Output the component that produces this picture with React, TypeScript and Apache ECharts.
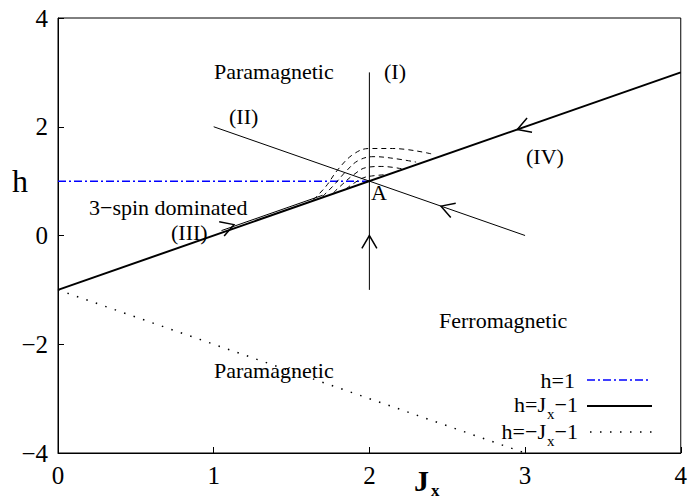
import React, { useEffect, useRef } from "react";
import * as echarts from "echarts";

// ---- data ----
const xTicks = [0, 1, 2, 3, 4];
const yTicks = [-4, -2, 0, 2, 4];
const lineH1: number[][] = [[0, 1], [2, 1]];
const lineJm1: number[][] = [[0, -1], [4, 3]];
const lineNegJm1: number[][] = [[0, -1], [3, -4]];
const lineI: number[][] = [[2, -1], [2, 3]];
const lineII: number[][] = [[1, 2], [3, 0]];
const lineIIIthin: number[][] = [[1.05, 0.09], [1.7, 0.74]];
const flow1: number[][] = [[1.64, 0.66], [1.72, 0.9], [1.8, 1.22], [1.9, 1.5], [2.0, 1.6], [2.15, 1.6], [2.4, 1.5]];
const flow2: number[][] = [[1.7, 0.72], [1.77, 0.92], [1.85, 1.18], [1.93, 1.38], [2.03, 1.45], [2.15, 1.42], [2.3, 1.35]];
const flow3: number[][] = [[1.77, 0.79], [1.83, 0.95], [1.9, 1.12], [1.98, 1.25], [2.08, 1.27], [2.22, 1.22]];
const flow4: number[][] = [[1.85, 0.86], [1.9, 0.96], [1.96, 1.06], [2.03, 1.1], [2.12, 1.12]];
// arrows: [x, y, dx, dy] (position of tip and direction of travel)
const arrows: number[][] = [
  [2, 0, 0, 1],
  [2.46, 0.54, -1, 1],
  [2.95, 1.95, -1, -1],
  [1.13, 0.2, 1, 1],
];

const FONT = "Liberation Serif";

export default function App() {
  const ref = useRef<HTMLDivElement>(null);
  useEffect(() => {
    document.body.style.margin = "0";
    const chart = echarts.init(ref.current!, null, { renderer: "svg" });
    const thin = (data: number[][], lw = 1, type: any = "solid", color = "#000") => ({
      type: "line",
      data,
      symbol: "none",
      silent: true,
      lineStyle: { color, width: lw, type },
    });
    const flow = (data: number[][]) => ({
      type: "line",
      data,
      symbol: "none",
      smooth: 0.4,
      silent: true,
      lineStyle: { color: "#000", width: 1, type: [5, 4] },
    });
    const text = (t: string, x: number, y: number, size = 22, extra: any = {}) => ({
      type: "text",
      x,
      y,
      style: {
        text: t,
        fontFamily: FONT,
        fontSize: size,
        fill: "#000",
        textAlign: extra.align || "left",
        textVerticalAlign: "middle",
        fontWeight: extra.weight || "normal",
      },
    });
    const line = (x1: number, y1: number, x2: number, y2: number, style: any) => ({
      type: "line",
      shape: { x1, y1, x2, y2 },
      style: Object.assign({ stroke: "#000", lineWidth: 1 }, style),
    });
    const fmt = (v: number) => (v < 0 ? "\u2212" + Math.abs(v) : String(v));
    const labelStyle = {
      fontFamily: FONT,
      fontSize: 25,
      color: "#000",
      margin: 10,
      formatter: fmt,
    };
    chart.setOption({
      animation: false,
      textStyle: { fontFamily: FONT, fontSize: 25, color: "#000" },
      grid: {
        left: 58,
        right: 8,
        top: 18,
        bottom: 47,
        show: true,
        borderColor: "#000",
        borderWidth: 1,
      },
      xAxis: {
        type: "value",
        min: xTicks[0],
        max: xTicks[xTicks.length - 1],
        interval: 1,
        axisLine: { show: true, onZero: false, lineStyle: { color: "#000", width: 1 } },
        axisTick: { show: true, inside: true, length: 6, lineStyle: { color: "#000" } },
        axisLabel: labelStyle,
        splitLine: { show: false },
      },
      yAxis: {
        type: "value",
        min: yTicks[0],
        max: yTicks[yTicks.length - 1],
        interval: 2,
        axisLine: { show: true, onZero: false, lineStyle: { color: "#000", width: 1 } },
        axisTick: { show: true, inside: true, length: 6, lineStyle: { color: "#000" } },
        axisLabel: labelStyle,
        splitLine: { show: false },
      },
      series: [
        thin(lineH1, 1.5, [8, 3, 2, 3], "#0000ff"),
        thin(lineJm1, 2),
        thin(lineNegJm1, 1.5, [1.5, 8.5]),
        thin(lineI, 1),
        thin(lineII, 1),
        thin(lineIIIthin, 1),
        flow(flow1),
        flow(flow2),
        flow(flow3),
        flow(flow4),
        {
          type: "custom",
          silent: true,
          data: arrows,
          renderItem: (params: any, api: any) => {
            const x = api.value(0), y = api.value(1), dx = api.value(2), dy = api.value(3);
            const p = api.coord([x, y]);
            const q = api.coord([x + dx, y + dy]);
            let ux = q[0] - p[0], uy = q[1] - p[1];
            const L = Math.hypot(ux, uy);
            ux /= L; uy /= L;
            const bx = -ux, by = -uy;
            const len = 15, ang = Math.PI / 6;
            const rot = (a: number) => [
              p[0] + len * (bx * Math.cos(a) - by * Math.sin(a)),
              p[1] + len * (bx * Math.sin(a) + by * Math.cos(a)),
            ];
            return {
              type: "polyline",
              shape: { points: [rot(ang), p, rot(-ang)] },
              style: { stroke: "#000", fill: "none", lineWidth: 1.5 },
            };
          },
        },
      ],
      graphic: [
        text("Paramagnetic", 214, 71),
        text("(I)", 384, 71),
        text("(II)", 229, 116),
        text("(IV)", 526, 156),
        text("A", 371, 192),
        text("3\u2212spin dominated", 89, 207),
        text("(III)", 171, 232),
        text("Ferromagnetic", 439, 320),
        text("Paramagnetic", 214, 370),
        text("h", 12, 181, 32),
        text("J", 414, 480, 30, { weight: "bold" }),
        text("x", 431, 490, 17, { weight: "bold" }),
        // legend
        text("h=1", 575, 380, 22, { align: "right" }),
        line(587, 380, 651, 380, { stroke: "#0000ff", lineWidth: 1.5, lineDash: [8, 3, 2, 3] }),
        text("h=J", 546, 404, 22, { align: "right" }),
        text("x", 547, 414, 15),
        text("\u22121", 578, 404, 22, { align: "right" }),
        line(587, 406, 652, 406, { lineWidth: 2 }),
        text("h=\u2212J", 546, 431, 22, { align: "right" }),
        text("x", 547, 441, 15),
        text("\u22121", 578, 431, 22, { align: "right" }),
        line(590, 432, 652, 432, { lineWidth: 1.5, lineDash: [1.5, 8.5] }),
      ],
    });
    return () => chart.dispose();
  }, []);
  return <div ref={ref} style={{ width: 690, height: 500 }} />;
}
